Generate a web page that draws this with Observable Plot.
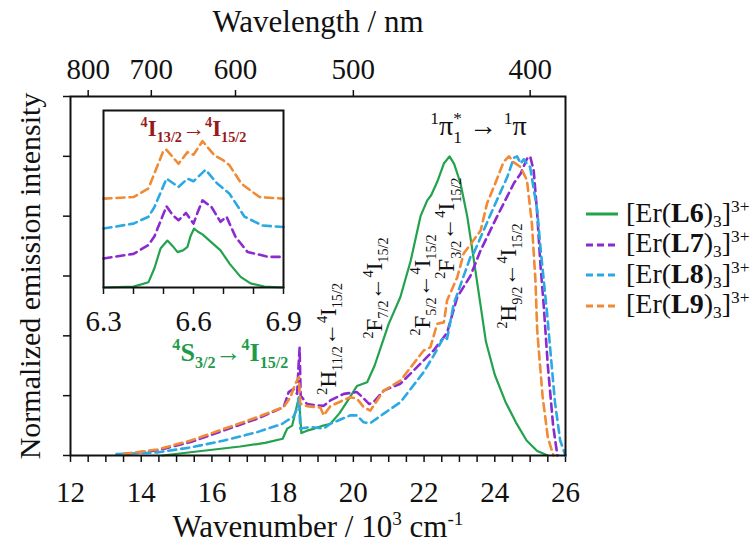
<!DOCTYPE html>
<html><head><meta charset="utf-8">
<script src="https://cdn.jsdelivr.net/npm/d3@7"></script>
<script src="https://cdn.jsdelivr.net/npm/@observablehq/plot@0.6"></script>
<style>
body{margin:0;background:#fff;}
#wrap{position:relative;width:755px;height:552px;font-family:"Liberation Serif","Times New Roman",serif;overflow:hidden;}
#wrap > svg{position:absolute;}
.leg{position:absolute;left:585px;display:flex;align-items:center;font-size:28px;line-height:1;color:#111;white-space:nowrap;}
.leg svg{position:static;margin-right:7px;}
.leg sub{font-size:0.62em;vertical-align:-0.3em;}
.leg sup{font-size:0.62em;vertical-align:0.55em;}
</style></head><body><div id="wrap"></div>
<script>
// ---------- data ----------
const seriesNames = ["L6", "L7", "L8", "L9"];
const seriesColors = ["#23a24d", "#8a2ad0", "#2aa9e2", "#f08a34"];
const seriesDashed = [false, true, true, true];

const mainL6 = [[14.6,0.0],[15.7,0.015],[16.8,0.03],[17.5,0.042],[18.0,0.056],[18.13,0.09],[18.27,0.1],[18.41,0.17],[18.46,0.195],[18.53,0.075],[18.69,0.083],[18.9,0.09],[19.15,0.1],[19.35,0.106],[19.6,0.14],[19.85,0.185],[20.1,0.232],[20.39,0.245],[20.6,0.3],[20.77,0.36],[21.0,0.44],[21.33,0.53],[21.62,0.65],[21.9,0.8],[22.09,0.853],[22.2,0.87],[22.37,0.914],[22.56,0.976],[22.72,1.0],[22.85,0.975],[23.03,0.91],[23.22,0.8],[23.4,0.66],[23.6,0.5],[23.75,0.38],[24.0,0.27],[24.3,0.18],[24.6,0.11],[24.9,0.05],[25.2,0.015],[25.5,0.0]];
const mainL7 = [[13.5,0.005],[14.45,0.017],[15.4,0.045],[16.34,0.084],[17.28,0.123],[18.03,0.162],[18.17,0.212],[18.31,0.223],[18.41,0.206],[18.45,0.3],[18.48,0.36],[18.51,0.2],[18.69,0.172],[18.95,0.168],[19.16,0.166],[19.35,0.184],[19.73,0.206],[20.1,0.212],[20.3,0.19],[20.45,0.172],[20.58,0.18],[20.86,0.217],[21.33,0.24],[21.99,0.318],[22.27,0.351],[22.65,0.41],[22.94,0.53],[23.31,0.6],[23.6,0.686],[24.07,0.8],[24.54,0.91],[24.73,0.942],[24.91,0.992],[25.0,1.0],[25.1,0.953],[25.2,0.808],[25.29,0.64],[25.38,0.508],[25.5,0.3],[25.65,0.1],[25.77,0.0]];
const mainL8 = [[13.3,0.005],[14.45,0.01],[15.4,0.027],[16.34,0.05],[17.28,0.078],[17.99,0.106],[18.13,0.117],[18.31,0.13],[18.42,0.16],[18.46,0.195],[18.5,0.09],[18.79,0.095],[19.16,0.09],[19.35,0.106],[19.91,0.134],[20.1,0.134],[20.29,0.111],[20.48,0.108],[20.86,0.14],[21.33,0.178],[21.99,0.279],[22.27,0.334],[22.56,0.396],[22.65,0.39],[22.84,0.507],[23.31,0.663],[23.4,0.675],[23.97,0.83],[24.35,0.93],[24.54,0.995],[24.63,1.0],[24.73,0.976],[24.82,0.99],[24.91,0.975],[25.0,0.964],[25.2,0.82],[25.29,0.697],[25.48,0.474],[25.7,0.18],[25.85,0.05],[26.0,0.0]];
const mainL9 = [[13.5,0.005],[14.45,0.02],[15.4,0.05],[16.34,0.089],[17.28,0.128],[18.03,0.162],[18.22,0.195],[18.36,0.24],[18.46,0.262],[18.5,0.173],[18.69,0.165],[19.07,0.16],[19.16,0.134],[19.35,0.165],[19.91,0.195],[20.1,0.19],[20.29,0.162],[20.48,0.15],[20.86,0.217],[21.33,0.25],[21.99,0.351],[22.18,0.362],[22.37,0.44],[22.56,0.445],[22.65,0.518],[22.94,0.596],[23.12,0.675],[23.6,0.752],[23.78,0.842],[23.97,0.897],[24.25,0.981],[24.4,1.0],[24.54,0.98],[24.73,0.964],[24.91,0.92],[25.05,0.775],[25.15,0.585],[25.2,0.418],[25.35,0.2],[25.5,0.06],[25.66,0.0]];

const insetL6 = [[6.3,0.0],[6.4,0.005],[6.45,0.03],[6.47,0.11],[6.49,0.22],[6.513,0.265],[6.53,0.235],[6.547,0.2],[6.565,0.21],[6.58,0.23],[6.59,0.29],[6.602,0.333],[6.615,0.315],[6.63,0.3],[6.658,0.258],[6.69,0.21],[6.72,0.135],[6.757,0.06],[6.79,0.023],[6.836,0.005],[6.9,0.0]];
const insetL7 = [[6.3,0.164],[6.4,0.19],[6.45,0.24],[6.47,0.29],[6.51,0.459],[6.53,0.41],[6.55,0.38],[6.575,0.421],[6.6,0.361],[6.615,0.43],[6.63,0.492],[6.66,0.455],[6.69,0.371],[6.71,0.4],[6.74,0.286],[6.78,0.201],[6.85,0.173],[6.9,0.173]];
const insetL8 = [[6.3,0.333],[6.4,0.361],[6.45,0.4],[6.47,0.455],[6.51,0.615],[6.55,0.568],[6.58,0.615],[6.6,0.6],[6.64,0.665],[6.68,0.586],[6.72,0.53],[6.77,0.4],[6.83,0.35],[6.9,0.342]];
const insetL9 = [[6.3,0.502],[6.4,0.511],[6.45,0.56],[6.5,0.774],[6.51,0.778],[6.55,0.699],[6.58,0.765],[6.6,0.75],[6.63,0.827],[6.67,0.746],[6.7,0.718],[6.72,0.69],[6.76,0.586],[6.82,0.511],[6.9,0.502]];

const xMinorTicks = [12,12.5,13,13.5,14,14.5,15,15.5,16,16.5,17,17.5,18,18.5,19,19.5,20,20.5,21,21.5,22,22.5,23,23.5,24,24.5,25,25.5,26];
const xTickLabels = [12,14,16,18,20,22,24,26];
const wavelengthTicks = [800,700,600,500,400];
const yTicks = [0,0.2,0.4,0.6,0.8,1.0,1.2];
const insetMinorTicks = [6.3,6.4,6.5,6.6,6.7,6.8,6.9];
const insetTickLabels = [6.3,6.6,6.9];

const xTitle = "Wavenumber / 10^3 cm^{-1}";
const topTitle = "Wavelength / nm";
const yTitle = "Normalized emission intensity";
const insetTitle = "^4I_{13/2}→^4I_{15/2}";
const greenLabel = "^4S_{3/2}→^4I_{15/2}";
const topLabel = "^1π_1^* → ^1π";
const transitions = [
  {x: 19.3, y: 0.39, label: "^2H_{11/2}←^4I_{15/2}"},
  {x: 20.6, y: 0.56, label: "^2F_{7/2}←^4I_{15/2}"},
  {x: 21.95, y: 0.57, label: "^2F_{5/2}←^4I_{15/2}"},
  {x: 22.65, y: 0.76, label: "^2F_{3/2}←^4I_{15/2}"},
  {x: 24.39, y: 0.6, label: "^2H_{9/2}←^4I_{15/2}"}
];
const greenLabelPos = {x: 16.52, y: 0.345};
const topLabelPos = {x: 23.54, y: 1.1};

const mainSeries = [mainL6, mainL7, mainL8, mainL9];
const insetSeries = [insetL6, insetL7, insetL8, insetL9];

// ---------- helpers ----------
const FF = "Liberation Serif";
function lineMarks(series) {
  return series.map((data, i) => Plot.line(data, {
    x: d => d[0], y: d => d[1], stroke: seriesColors[i],
    strokeWidth: seriesDashed[i] ? 2.6 : 2.2,
    strokeDasharray: seriesDashed[i] ? "8,5" : null,
    strokeLinejoin: "round", curve: "linear"
  }));
}
function richify(el) {
  const size = parseFloat(getComputedStyle(el).fontSize);
  const src = el.textContent;
  el.textContent = "";
  const segs = []; let buf = "", i = 0;
  const flush = () => { if (buf) { segs.push({t: buf, m: 0}); buf = ""; } };
  while (i < src.length) {
    const c = src[i];
    if (c === "^" || c === "_") {
      flush();
      const m = c === "^" ? 1 : -1; i++;
      let t;
      if (src[i] === "{") { const j = src.indexOf("}", i); t = src.slice(i + 1, j); i = j + 1; }
      else { t = src[i]; i++; }
      segs.push({t, m});
    } else if (c === "←") {
      flush(); segs.push({t: c, m: 0, bold: true}); i++;
    } else { buf += c; i++; }
  }
  flush();
  let cur = 0, prev = null;
  for (const s of segs) {
    const ts = document.createElementNS("http://www.w3.org/2000/svg", "tspan");
    const target = s.m === 1 ? -0.4 * size : s.m === -1 ? 0.28 * size : 0;
    ts.setAttribute("dy", (target - cur) + "px");
    cur = target;
    ts.setAttribute("font-size", (s.m ? 0.62 * size : size) + "px");
    if (s.bold) ts.setAttribute("font-weight", "bold");
    if (prev && prev.m === -1 && s.m === 1) ts.setAttribute("dx", (-prev.t.length * 0.5 * 0.62 * size) + "px");
    ts.textContent = s.t;
    el.appendChild(ts);
    prev = s;
  }
}

// ---------- main chart ----------
const main = Plot.plot({
  width: 755, height: 552,
  marginLeft: 70, marginRight: 190, marginTop: 96, marginBottom: 97,
  style: {background: "transparent", color: "#111", overflow: "visible"},
  x: {domain: [12, 26]},
  y: {domain: [0, 1.2]},
  marks: [
    Plot.axisX({ticks: xMinorTicks, tickFormat: () => "", tickSize: 7, strokeWidth: 1.5, label: null}),
    Plot.axisX({ticks: xTickLabels, tickSize: 0, tickPadding: 26, label: null, fontSize: 29}),
    Plot.axisX({anchor: "top", ticks: wavelengthTicks.map(w => 1e4 / w), tickFormat: v => String(Math.round(1e4 / v)), tickSize: 7, tickPadding: 11, strokeWidth: 1.5, label: null, fontSize: 29}),
    Plot.axisY({ticks: yTicks, tickFormat: () => "", tickSize: 7, strokeWidth: 1.5, label: null}),
    ...lineMarks(mainSeries),
    Plot.frame({stroke: "#111", strokeWidth: 2}),
    Plot.text([xTitle], {frameAnchor: "bottom", lineAnchor: "middle", dy: 72, fontSize: 31}),
    Plot.text([topTitle], {frameAnchor: "top", lineAnchor: "middle", dy: -74, fontSize: 31}),
    Plot.text([yTitle], {frameAnchor: "left", textAnchor: "middle", lineAnchor: "middle", dx: -40, rotate: -90, fontSize: 30}),
    Plot.text(transitions, {x: "x", y: "y", text: "label", rotate: -90, fontSize: 23, fill: "#111"}),
    Plot.text([greenLabel], {x: greenLabelPos.x, y: greenLabelPos.y, fontSize: 26, fontWeight: "bold", fill: "#1f9a4b"}),
    Plot.text([topLabel], {x: topLabelPos.x, y: topLabelPos.y, fontSize: 28, fill: "#111"})
  ]
});
main.style.left = "0px"; main.style.top = "0px";

// ---------- inset ----------
const inset = Plot.plot({
  width: 225, height: 245,
  marginLeft: 23, marginRight: 22, marginTop: 10, marginBottom: 58,
  style: {background: "transparent", color: "#111", overflow: "visible"},
  x: {domain: [6.3, 6.9]},
  y: {domain: [0, 1], axis: null},
  marks: [
    Plot.axisX({ticks: insetMinorTicks, tickFormat: () => "", tickSize: 7, strokeWidth: 1.5, label: null}),
    Plot.axisX({ticks: insetTickLabels, tickFormat: d3.format(".1f"), tickSize: 0, tickPadding: 23, label: null, fontSize: 29}),
    ...lineMarks(insetSeries),
    Plot.frame({stroke: "#111", strokeWidth: 2}),
    Plot.text([insetTitle], {frameAnchor: "top", lineAnchor: "middle", dy: 18, fontSize: 23, fontWeight: "bold", fill: "#961c1c"})
  ]
});
inset.style.left = "80px"; inset.style.top = "100px";

const wrap = document.getElementById("wrap");
wrap.appendChild(main);
wrap.appendChild(inset);
[main, inset].forEach(svg => {
  svg.setAttribute("font-family", FF);
  svg.querySelectorAll("g, text").forEach(n => {
    if (n.hasAttribute("font-family")) n.setAttribute("font-family", FF);
  });
  svg.querySelectorAll("text").forEach(t => { t.style.fontFamily = FF; });
});
document.querySelectorAll("#wrap svg text").forEach(el => {
  if (/[\^_←]/.test(el.textContent)) richify(el);
});

// ---------- legend ----------
const legendTop = [214, 244.5, 275, 305.5];
seriesNames.forEach((name, i) => {
  const row = document.createElement("div");
  row.className = "leg";
  row.style.top = (legendTop[i] - 15) + "px";
  row.style.height = "30px";
  row.innerHTML = `<svg width="34" height="10"><line x1="1" y1="5" x2="33" y2="5" stroke="${seriesColors[i]}" stroke-width="3" ${seriesDashed[i] ? 'stroke-dasharray="7,4"' : ''}/></svg><span>[Er(<b>${name}</b>)<sub>3</sub>]<sup>3+</sup></span>`;
  wrap.appendChild(row);
});
</script>
</body></html>
